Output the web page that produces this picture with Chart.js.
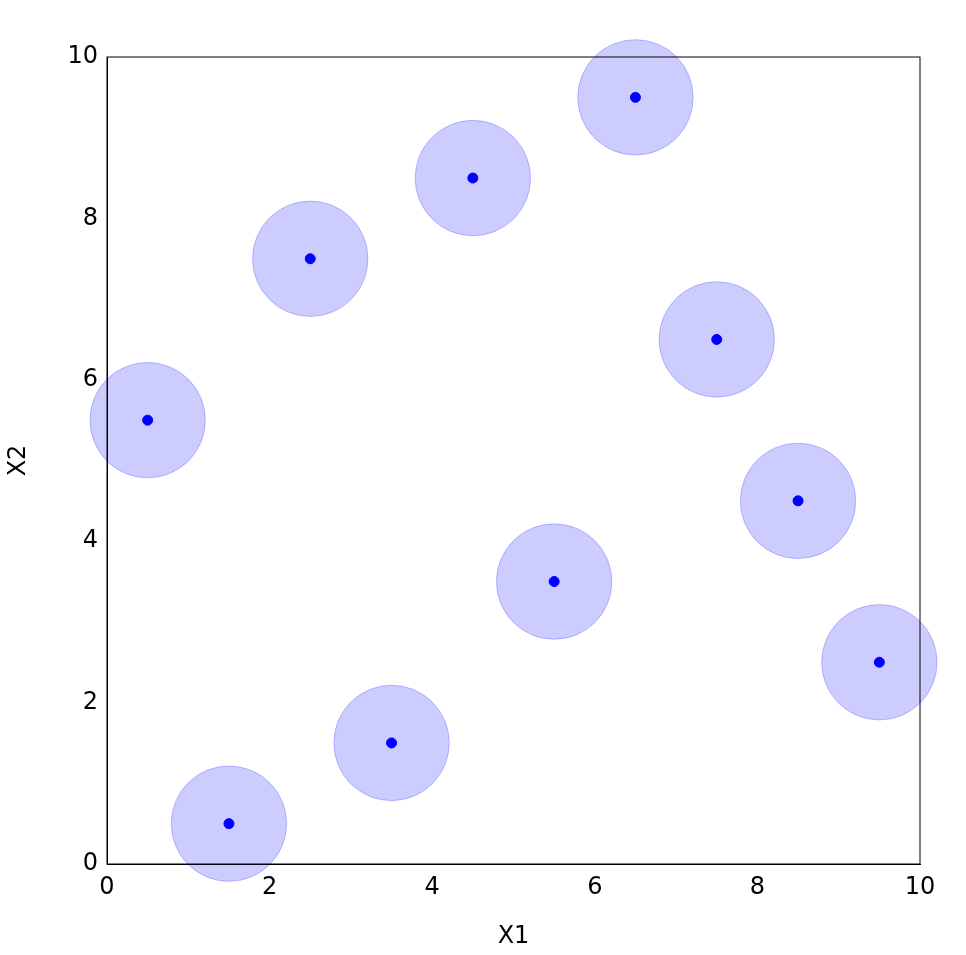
<!DOCTYPE html>
<html><head><meta charset="utf-8">
<script src="https://cdn.jsdelivr.net/npm/chart.js@4"></script>
<style>html,body{margin:0;padding:0;background:#fff}#w{width:966px;height:955px}</style>
</head><body><div id="w"><canvas id="c"></canvas></div>
<script>
const xs = [0.5, 1.5, 2.5, 3.5, 4.5, 5.5, 6.5, 7.5, 8.5, 9.5];
const ys = [5.5, 0.5, 7.5, 1.5, 8.5, 3.5, 9.5, 6.5, 4.5, 2.5];
const circleRadius = 0.71;
const pts = xs.map((x, i) => ({x: x, y: ys[i]}));
const frame = {id:'frame', afterDatasetsDraw(ch){const a=ch.chartArea,c=ch.ctx;c.save();c.strokeStyle='#000';c.lineWidth=1;c.strokeRect(a.left,a.top,a.right-a.left,a.bottom-a.top);c.restore();}};
Chart.defaults.font.family = 'DejaVu Sans';
new Chart(document.getElementById('c'), {
  type: 'scatter',
  data: {datasets: [
    {data: pts, order: 2, clip: false,
     backgroundColor: 'rgba(0,0,255,0.2)', borderColor: 'rgba(0,0,255,0.22)', borderWidth: 1,
     pointRadius: ctx => { const s = ctx.chart.scales.x; return s ? Math.abs(s.getPixelForValue(circleRadius) - s.getPixelForValue(0)) : 50; },
     pointHoverRadius: ctx => { const s = ctx.chart.scales.x; return s ? Math.abs(s.getPixelForValue(circleRadius) - s.getPixelForValue(0)) : 50; }},
    {data: pts, order: 1, backgroundColor: '#0000ff', borderColor: '#0000ff', pointRadius: 5, pointHoverRadius: 5}
  ]},
  options: {
    responsive: true, maintainAspectRatio: false, animation: false,
    layout: {padding: {top: 57, right: 46, left: 0, bottom: 0}},
    plugins: {legend: {display: false}, tooltip: {enabled: false}},
    scales: {
      x: {min: 0, max: 10, ticks: {stepSize: 2, color: '#000', font: {size: 24}, maxRotation: 0},
          grid: {display: false, drawTicks: true, tickLength: 6, tickColor: '#000'},
          border: {color: '#000'},
          title: {display: true, text: 'X1', color: '#000', font: {size: 24}, padding: {top: 0}},
          afterFit: s => { s.height = 91; }},
      y: {min: 0, max: 10, ticks: {stepSize: 2, color: '#000', font: {size: 24}},
          grid: {display: false, tickLength: 6, tickColor: '#000'},
          border: {color: '#000'},
          title: {display: true, text: 'X2', color: '#000', font: {size: 24}},
          afterFit: s => { s.width = 107; }}
    }
  },
  plugins: [frame]
});
</script></body></html>
